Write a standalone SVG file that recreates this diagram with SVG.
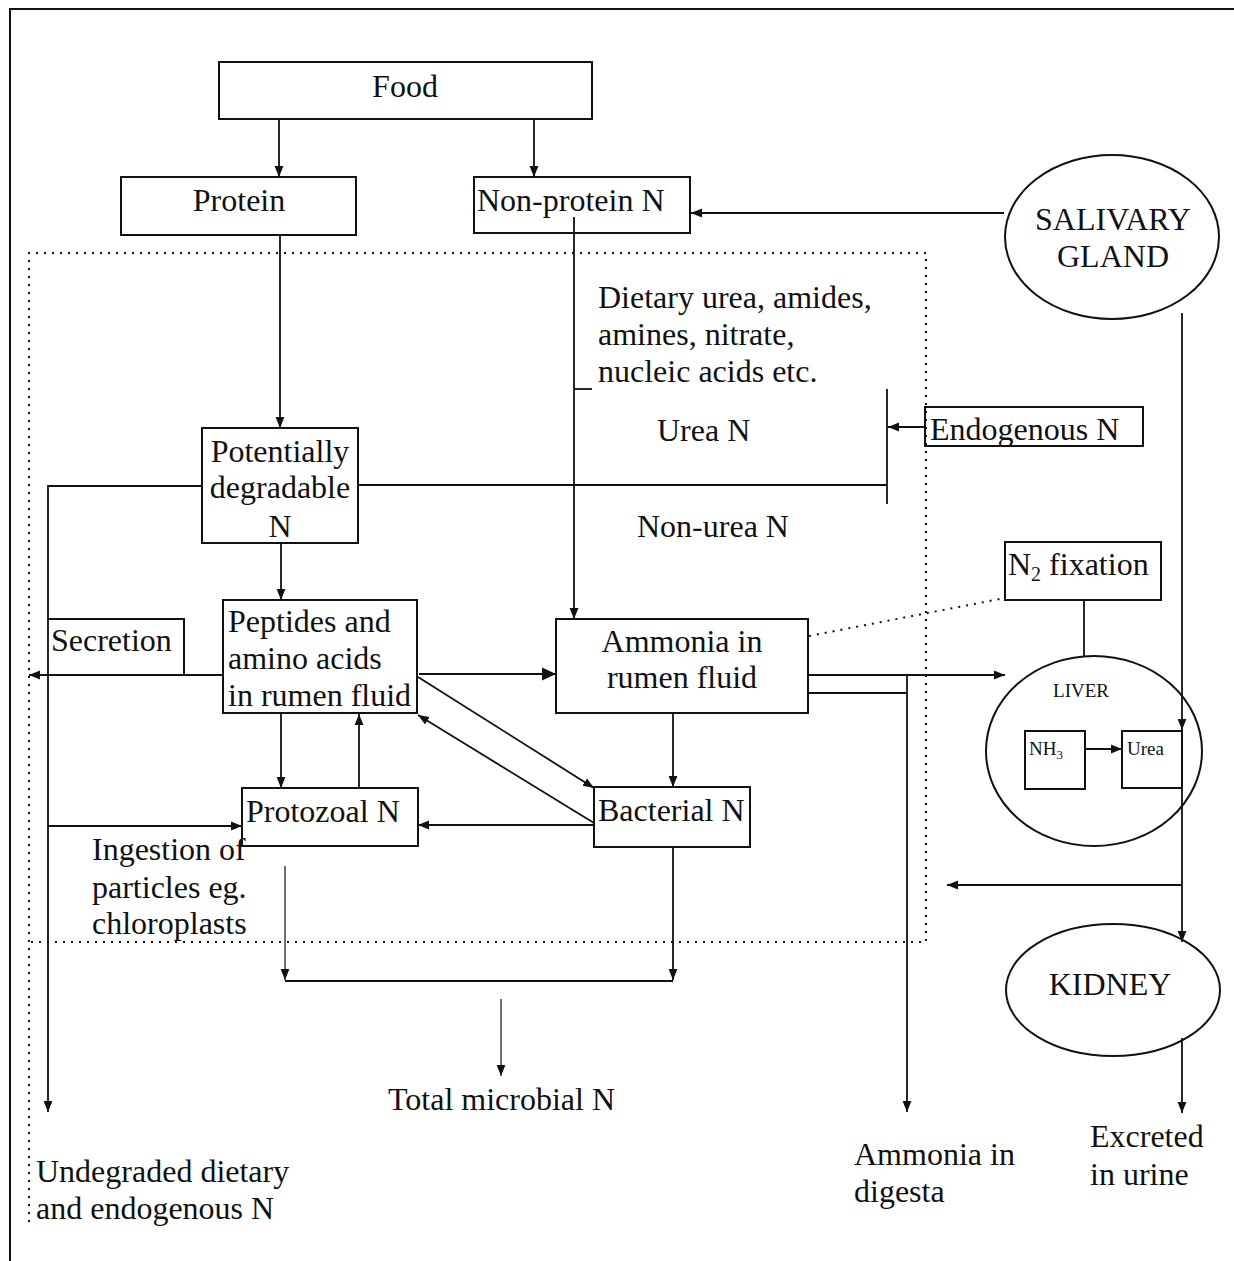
<svg xmlns="http://www.w3.org/2000/svg" width="1234" height="1261" viewBox="0 0 1234 1261">
<style>
text{font-family:"Liberation Serif","Times New Roman",serif;font-size:32px;fill:#111}
.sm{font-size:19px}
.c{text-anchor:middle}
.box{fill:none;stroke:#111;stroke-width:2}
.ln{fill:none;stroke:#111;stroke-width:1.8}
.thin{fill:none;stroke:#111;stroke-width:1.2}
.dot{fill:none;stroke:#111;stroke-width:2;stroke-dasharray:2 6}
.arr{marker-end:url(#ah)}
.big{marker-end:url(#ahb)}
</style>
<defs>
<marker id="ah" markerUnits="userSpaceOnUse" markerWidth="11" markerHeight="10" refX="11" refY="5" orient="auto"><path d="M0,0.6 L11,5 L0,9.4 z" fill="#111"/></marker>
<marker id="ahb" markerUnits="userSpaceOnUse" markerWidth="14" markerHeight="14" refX="14" refY="7" orient="auto"><path d="M0,0.5 L14,7 L0,13.5 z" fill="#111"/></marker>
</defs>
<rect width="1234" height="1261" fill="#fff"/>
<path class="box" d="M10,1261 V9 H1234"/>
<path class="dot" d="M29,1222 V253 H926 V942 H30"/>

<g id="connectors">
<path class="ln arr" d="M279,119 V177"/>
<path class="ln arr" d="M534,119 V177"/>
<path class="ln arr" d="M1004,213 H691"/>
<path class="ln arr" d="M280,235 V428"/>
<path class="ln arr" d="M574,217 V619"/>
<path class="ln" d="M574,389 H592"/>
<path class="ln" d="M887,389 V504"/>
<path class="ln arr" d="M925,427 H888"/>
<path class="ln" d="M358,485 H887"/>
<path class="ln arr" d="M202,486 H48 V1112"/>
<path class="ln arr" d="M281,543 V600"/>
<path class="ln arr" d="M223,675 H29"/>
<path class="ln big" d="M419,674 H556"/>
<path class="dot" stroke-width="1.6" d="M809,636 L1005,598"/>
<path class="ln" d="M1084,600 V656"/>
<path class="ln arr" d="M808,675 H1005"/>
<path class="ln" d="M808,693 H907"/>
<path class="ln arr" d="M907,675 V1112"/>
<path class="ln arr" d="M673,713 V787"/>
<path class="ln arr" d="M281,713 V788"/>
<path class="ln arr" d="M359,788 V714"/>
<path class="ln arr" d="M418,677 L594,788"/>
<path class="ln arr" d="M594,823 L418,715"/>
<path class="ln arr" d="M595,825 H418"/>
<path class="ln arr" d="M48,826 H242"/>
<path class="thin arr" d="M285,866 V980"/>
<path class="ln arr" d="M673,847 V980"/>
<path class="ln" d="M285,981 H673"/>
<path class="thin arr" d="M501,999 V1076"/>
<path class="ln arr" d="M1182,313 V730"/>
<path class="ln arr" d="M1182,730 V942"/>
<path class="ln arr" d="M1182,885 H947"/>
<path class="ln arr" d="M1182,1038 V1113"/>
<path class="ln arr" d="M1085,749 H1122"/>
</g>

<g id="food"><rect class="box" x="219" y="62" width="373" height="57"/><text class="c" x="405" y="97">Food</text></g>
<g id="protein"><rect class="box" x="121" y="177" width="235" height="58"/><text class="c" x="239" y="211">Protein</text></g>
<g id="nonprotein"><rect class="box" x="474" y="177" width="216" height="56"/><text x="477" y="211">Non-protein N</text></g>
<g id="salivary"><ellipse class="box" cx="1112" cy="237" rx="107" ry="82"/><text class="c" x="1113" y="230">SALIVARY</text><text class="c" x="1113" y="267">GLAND</text></g>
<g id="dietary"><text x="598" y="308">Dietary urea, amides,</text><text x="598" y="345">amines, nitrate,</text><text x="598" y="382">nucleic acids etc.</text></g>
<g id="urea-n"><text x="657" y="441">Urea N</text></g>
<g id="non-urea-n"><text x="637" y="537">Non-urea N</text></g>
<g id="endogenous"><rect class="box" x="925" y="407" width="218" height="39"/><text x="930" y="440">Endogenous N</text></g>
<g id="potentially"><rect class="box" x="202" y="428" width="156" height="115"/><text class="c" x="280" y="462">Potentially</text><text class="c" x="280" y="498">degradable</text><text class="c" x="280" y="537">N</text></g>
<g id="n2fix"><rect class="box" x="1005" y="542" width="156" height="58"/><text x="1008" y="575">N<tspan font-size="20" dy="6">2</tspan><tspan dy="-6"> fixation</tspan></text></g>
<g id="secretion"><path class="box" d="M48,619 H184 V675"/><text x="51" y="651">Secretion</text></g>
<g id="peptides"><rect class="box" x="223" y="600" width="194" height="113"/><text x="228" y="632">Peptides and</text><text x="228" y="669">amino acids</text><text x="228" y="706">in rumen fluid</text></g>
<g id="ammonia"><rect class="box" x="556" y="619" width="252" height="94"/><text class="c" x="682" y="652">Ammonia in</text><text class="c" x="682" y="688">rumen fluid</text></g>
<g id="liver"><ellipse class="box" cx="1094" cy="751" rx="108" ry="95"/><text class="c sm" x="1081" y="697">LIVER</text>
<rect class="box" x="1025" y="731" width="60" height="58"/><text class="sm" x="1029" y="755">NH<tspan font-size="13" dy="4">3</tspan></text>
<rect class="box" x="1122" y="731" width="60" height="57"/><text class="sm" x="1127" y="755">Urea</text></g>
<g id="protozoal"><rect class="box" x="242" y="788" width="176" height="58"/><text x="246" y="822">Protozoal N</text></g>
<g id="bacterial"><rect class="box" x="594" y="787" width="156" height="60"/><text x="598" y="821">Bacterial N</text></g>
<g id="ingestion"><text x="92" y="860">Ingestion of</text><text x="92" y="898">particles eg.</text><text x="92" y="934">chloroplasts</text></g>
<g id="total"><text x="388" y="1110">Total microbial N</text></g>
<g id="kidney"><ellipse class="box" cx="1113" cy="990" rx="107" ry="66"/><text class="c" x="1110" y="995">KIDNEY</text></g>
<g id="excreted"><text x="1090" y="1147">Excreted</text><text x="1090" y="1185">in urine</text></g>
<g id="digesta"><text x="854" y="1165">Ammonia in</text><text x="854" y="1202">digesta</text></g>
<g id="undegraded"><text x="36" y="1182">Undegraded dietary</text><text x="36" y="1219">and endogenous N</text></g>
</svg>
